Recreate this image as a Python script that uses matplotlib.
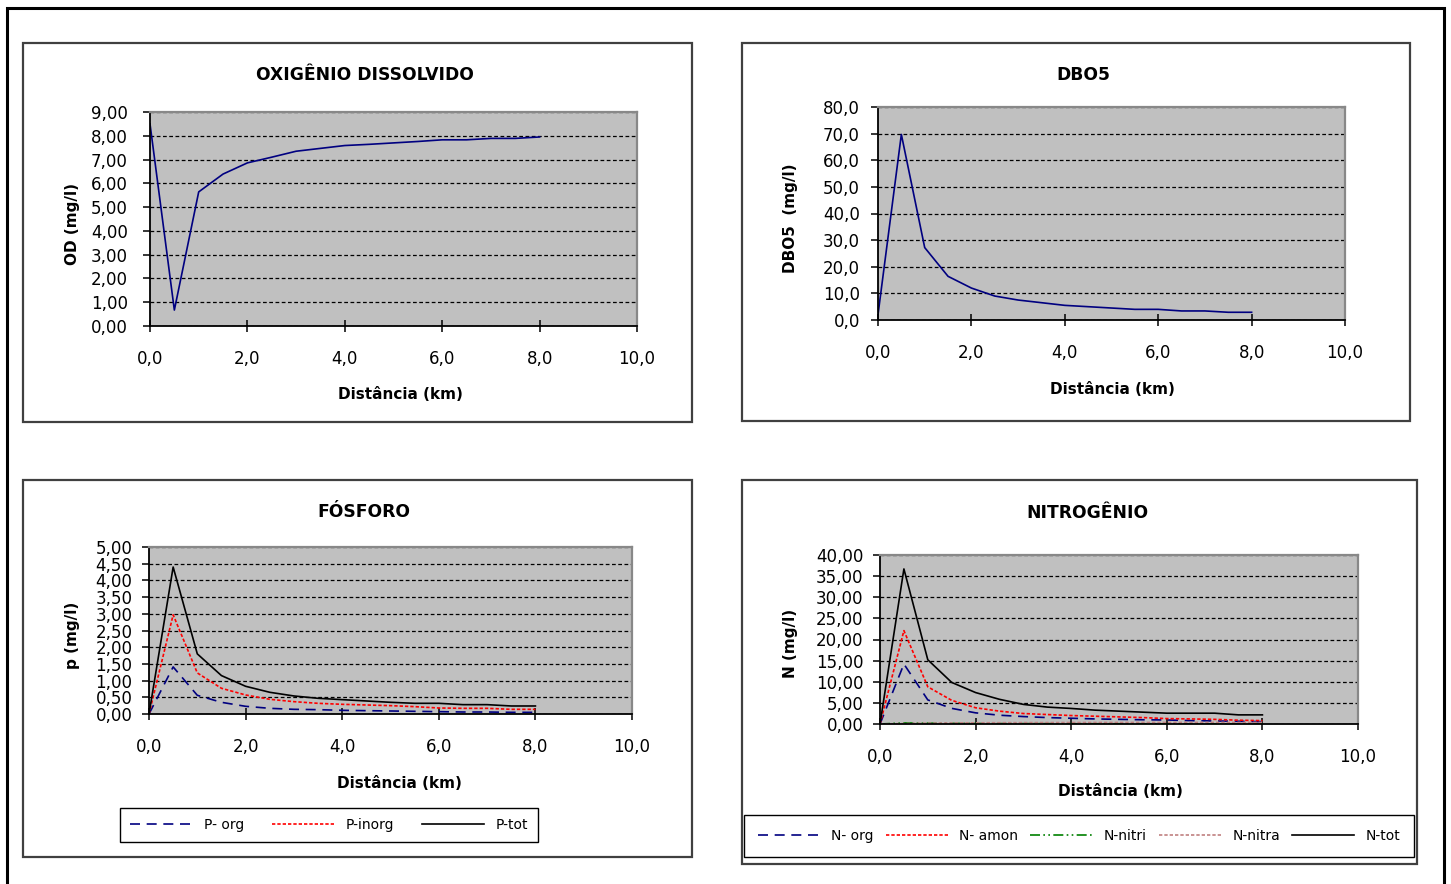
import matplotlib
matplotlib.use('Agg')
import matplotlib.pyplot as plt
from matplotlib.patches import Rectangle
from matplotlib.ticker import FuncFormatter, MultipleLocator

plt.rcParams['font.family'] = ['DejaVu Sans']

# ---------------- data ----------------
dist = [0.0, 0.5, 1.0, 1.5, 2.0, 2.5, 3.0, 3.5, 4.0, 4.5, 5.0, 5.5, 6.0, 6.5, 7.0, 7.5, 8.0]

od = [8.50, 0.67, 5.64, 6.39, 6.86, 7.10, 7.35, 7.47, 7.59, 7.64, 7.70, 7.76, 7.83, 7.83, 7.89, 7.89, 7.95]

dbo5 = [2.0, 69.7, 27.2, 16.4, 12.0, 9.0, 7.5, 6.5, 5.5, 5.0, 4.5, 4.0, 4.0, 3.4, 3.4, 2.9, 2.9]

p_org = [0.0, 1.41, 0.56, 0.35, 0.23, 0.17, 0.14, 0.13, 0.11, 0.10, 0.09, 0.08, 0.07, 0.06, 0.06, 0.05, 0.05]
p_inorg = [0.0, 2.97, 1.23, 0.77, 0.57, 0.44, 0.37, 0.32, 0.29, 0.27, 0.25, 0.22, 0.18, 0.17, 0.17, 0.14, 0.14]
p_tot = [0.0, 4.40, 1.80, 1.15, 0.83, 0.65, 0.54, 0.47, 0.43, 0.39, 0.35, 0.32, 0.32, 0.28, 0.28, 0.24, 0.24]

n_org = [0.0, 14.2, 5.7, 3.7, 2.64, 2.08, 1.76, 1.52, 1.36, 1.20, 1.10, 1.00, 0.95, 0.80, 0.72, 0.64, 0.56]
n_amon = [0.0, 22.1, 8.8, 5.6, 3.84, 3.04, 2.48, 2.24, 2.00, 1.84, 1.68, 1.52, 1.28, 1.20, 1.10, 0.90, 0.80]
n_nitri = [0.0, 0.25, 0.20, 0.15, 0.12, 0.10, 0.09, 0.08, 0.07, 0.06, 0.06, 0.05, 0.05, 0.04, 0.04, 0.04, 0.03]
n_nitra = [0.0, 0.10, 0.20, 0.25, 0.28, 0.30, 0.32, 0.33, 0.34, 0.35, 0.35, 0.36, 0.36, 0.37, 0.37, 0.37, 0.38]
n_tot = [0.0, 36.7, 15.2, 9.84, 7.44, 5.84, 4.64, 4.00, 3.68, 3.28, 3.04, 2.80, 2.56, 2.56, 2.56, 2.16, 2.16]

titles = ['OXIGÊNIO DISSOLVIDO', 'DBO5', 'FÓSFORO', 'NITROGÊNIO']
ylabels = ['OD (mg/l)', 'DBO5  (mg/l)', 'p (mg/l)', 'N (mg/l)']
xlabel = 'Distância (km)'
p_labels = ['P- org', 'P-inorg', 'P-tot']
n_labels = ['N- org', 'N- amon', 'N-nitri', 'N-nitra', 'N-tot']

# ---------------- figure ----------------
W, H = 1451, 884
fig = plt.figure(figsize=(W / 100, H / 100), dpi=100)

TICK_FS = 12
LAB_FS = 11
TITLE_FS = 12.3
LEG_FS = 10


def frac_box(x0, y0, x1, y1):
    return [x0 / W, 1 - y1 / H, (x1 - x0) / W, (y1 - y0) / H]


def ax_at(x0, y0, x1, y1):
    return fig.add_axes(frac_box(x0, y0, x1, y1))


def ftext(x, y, s, **kw):
    fig.text(x / W, 1 - y / H, s, ha='center', va='center', **kw)


def frame(x0, y0, x1, y1, lw, color):
    b = frac_box(x0, y0, x1, y1)
    fig.patches.append(Rectangle((b[0], b[1]), b[2], b[3], transform=fig.transFigure,
                                 fill=False, lw=lw, edgecolor=color, zorder=0))


# outer frame and panel frames
frame(7, 8, 1444, 900, 2.2, 'black')
frame(23, 43, 692, 422, 1.6, '#404040')
frame(742, 43, 1410, 421, 1.6, '#404040')
frame(23, 480, 692, 857, 1.6, '#404040')
frame(742, 480, 1417, 864, 1.6, '#404040')


def fmt(d):
    return FuncFormatter(lambda v, p: ('{:.%df}' % d).format(v).replace('.', ','))


def setup(ax, ymax, ystep, ydec, ypad, xpad):
    ax.set_facecolor('#C0C0C0')
    ax.set_xlim(0, 10)
    ax.set_ylim(0, ymax)
    ax.xaxis.set_major_locator(MultipleLocator(2))
    ax.yaxis.set_major_locator(MultipleLocator(ystep))
    ax.xaxis.set_major_formatter(fmt(1))
    ax.yaxis.set_major_formatter(fmt(ydec))
    ax.tick_params(axis='y', direction='out', length=5, width=1.1, pad=ypad,
                   labelsize=TICK_FS, color='black')
    ax.tick_params(axis='x', direction='inout', length=9, width=1.1, pad=xpad,
                   labelsize=TICK_FS, color='black')
    for s in ['left', 'bottom']:
        ax.spines[s].set_color('black')
        ax.spines[s].set_linewidth(1.3)
    for s in ['top', 'right']:
        ax.spines[s].set_color('#888888')
        ax.spines[s].set_linewidth(1.6)
    ax.yaxis.grid(True, color='black', linestyle=(0, (3, 2)), lw=0.9)
    ax.set_axisbelow(True)


# panel 1: OD
ax1 = ax_at(150, 112, 637, 326)
setup(ax1, 9, 1, 2, 11, 13)
ax1.plot(dist, od, color='#000080', lw=1.2)
ftext(365, 75, titles[0], fontsize=TITLE_FS, fontweight='bold')
ftext(400, 395, xlabel, fontsize=LAB_FS, fontweight='bold')
ftext(73, 224, ylabels[0], fontsize=LAB_FS, fontweight='bold', rotation=90)

# panel 2: DBO5
ax2 = ax_at(878, 107, 1345, 320)
setup(ax2, 80, 10, 1, 8, 13)
ax2.plot(dist, dbo5, color='#000080', lw=1.2)
ftext(1083, 75, titles[1], fontsize=TITLE_FS, fontweight='bold')
ftext(1112, 390, xlabel, fontsize=LAB_FS, fontweight='bold')
ftext(791, 218, ylabels[1], fontsize=LAB_FS, fontweight='bold', rotation=90)

# panel 3: Fosforo
ax3 = ax_at(149, 547, 632, 714)
setup(ax3, 5, 0.5, 2, 7, 13)
l1, = ax3.plot(dist, p_org, color='#000080', lw=1.2, linestyle=(0, (6, 4)))
l2, = ax3.plot(dist, p_inorg, color='#FF0000', lw=1.2, linestyle=(0, (2, 1.2)))
l3, = ax3.plot(dist, p_tot, color='black', lw=1.2)
ftext(364, 512, titles[2], fontsize=TITLE_FS, fontweight='bold')
ftext(399, 783, xlabel, fontsize=LAB_FS, fontweight='bold')
ftext(73, 635, ylabels[2], fontsize=LAB_FS, fontweight='bold', rotation=90)
fig.legend([l1, l2, l3], p_labels, loc='center',
           bbox_to_anchor=frac_box(120, 808, 538, 842), mode='expand', ncol=3,
           fontsize=LEG_FS, handlelength=4.5, borderaxespad=0, fancybox=False,
           edgecolor='black', framealpha=1, borderpad=0.72)

# panel 4: Nitrogenio
ax4 = ax_at(880, 555, 1358, 724)
setup(ax4, 40, 5, 2, 7, 13)
m1, = ax4.plot(dist, n_org, color='#000080', lw=1.2, linestyle=(0, (6, 4)))
m2, = ax4.plot(dist, n_amon, color='#FF0000', lw=1.2, linestyle=(0, (2, 1.2)))
m3, = ax4.plot(dist, n_nitri, color='#008000', lw=1.2, linestyle=(0, (6, 2, 1, 2, 1, 2)))
m4, = ax4.plot(dist, n_nitra, color='#C08080', lw=1.2, linestyle=(0, (2, 1.2)))
m5, = ax4.plot(dist, n_tot, color='black', lw=1.2)
ftext(1087, 513, titles[3], fontsize=TITLE_FS, fontweight='bold')
ftext(1120, 792, xlabel, fontsize=LAB_FS, fontweight='bold')
ftext(791, 643, ylabels[3], fontsize=LAB_FS, fontweight='bold', rotation=90)
fig.legend([m1, m2, m3, m4, m5], n_labels, loc='center',
           bbox_to_anchor=frac_box(744, 815, 1414, 857), mode='expand', ncol=5,
           fontsize=LEG_FS, handlelength=4.5, borderaxespad=0, fancybox=False,
           edgecolor='black', framealpha=1, borderpad=1.0)

fig.savefig('out.png', dpi=100)
